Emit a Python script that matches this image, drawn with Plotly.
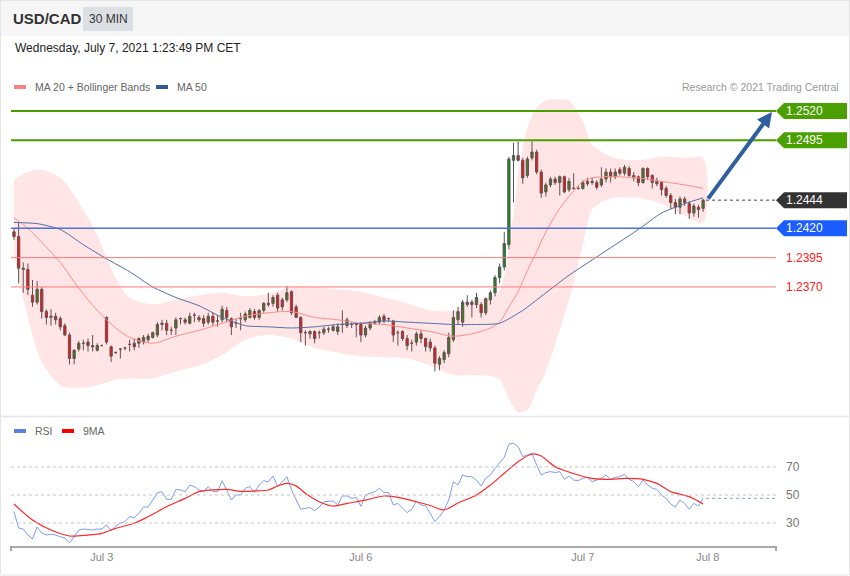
import plotly.graph_objects as go

# ---------------- data ----------------
OPEN = [1.2417,1.2413,1.2386,1.2385,1.2363,1.2357,1.2368,1.2349,1.2345,1.2345,
        1.2343,1.2337,1.2329,1.2309,1.2317,1.2322,1.2323,1.2320,1.2316,1.2320,
        1.2344,1.2319,1.2314,1.2317,1.2318,1.2321,1.2322,1.2322,1.2323,1.2325,
        1.2327,1.2329,1.2338,1.2339,1.2333,1.2335,1.2343,1.2342,1.2339,1.2346,
        1.2344,1.2343,1.2340,1.2345,1.2341,1.2342,1.2350,1.2343,1.2339,1.2343,
        1.2342,1.2344,1.2349,1.2344,1.2350,1.2355,1.2356,1.2363,1.2359,1.2359,
        1.2366,1.2353,1.2344,1.2331,1.2330,1.2332,1.2331,1.2331,1.2334,1.2333,
        1.2332,1.2338,1.2337,1.2338,1.2338,1.2338,1.2329,1.2335,1.2339,1.2340,
        1.2345,1.2343,1.2341,1.2331,1.2332,1.2326,1.2322,1.2323,1.2330,1.2326,
        1.2323,1.2318,1.2304,1.2308,1.2313,1.2325,1.2342,1.2340,1.2357,1.2357,
        1.2355,1.2355,1.2348,1.2359,1.2365,1.2378,1.2387,1.2406,1.2478,1.2482,
        1.2478,1.2465,1.2480,1.2485,1.2468,1.2451,1.2457,1.2462,1.2459,1.2464,
        1.2453,1.2454,1.2454,1.2454,1.2460,1.2459,1.2459,1.2457,1.2462,1.2468,
        1.2464,1.2470,1.2467,1.2471,1.2465,1.2464,1.2459,1.2471,1.2465,1.2460,
        1.2459,1.2454,1.2448,1.2442,1.2438,1.2445,1.2441,1.2433,1.2438,1.2437]
HIGH = [1.2420,1.2425,1.2391,1.2390,1.2376,1.2375,1.2370,1.2351,1.2351,1.2348,
        1.2345,1.2339,1.2331,1.2317,1.2324,1.2325,1.2326,1.2329,1.2322,1.2321,
        1.2345,1.2320,1.2315,1.2318,1.2319,1.2325,1.2326,1.2327,1.2329,1.2330,
        1.2332,1.2340,1.2342,1.2342,1.2336,1.2344,1.2344,1.2344,1.2348,1.2348,
        1.2346,1.2346,1.2348,1.2348,1.2346,1.2354,1.2353,1.2344,1.2343,1.2348,
        1.2349,1.2352,1.2351,1.2351,1.2357,1.2365,1.2363,1.2365,1.2361,1.2371,
        1.2367,1.2355,1.2345,1.2333,1.2333,1.2333,1.2333,1.2336,1.2336,1.2338,
        1.2339,1.2350,1.2344,1.2340,1.2340,1.2340,1.2337,1.2341,1.2342,1.2346,
        1.2347,1.2344,1.2342,1.2333,1.2333,1.2329,1.2325,1.2332,1.2333,1.2327,
        1.2326,1.2320,1.2311,1.2316,1.2331,1.2350,1.2353,1.2359,1.2363,1.2359,
        1.2365,1.2357,1.2361,1.2367,1.2380,1.2390,1.2417,1.2481,1.2493,1.2494,
        1.2480,1.2481,1.2494,1.2487,1.2470,1.2459,1.2464,1.2464,1.2465,1.2465,
        1.2463,1.2467,1.2456,1.2461,1.2463,1.2463,1.2461,1.2472,1.2471,1.2471,
        1.2471,1.2472,1.2474,1.2473,1.2468,1.2465,1.2472,1.2472,1.2466,1.2463,
        1.2460,1.2456,1.2450,1.2445,1.2447,1.2447,1.2443,1.2441,1.2440,1.2445]
LOW = [1.2410,1.2373,1.2365,1.2363,1.2353,1.2355,1.2343,1.2338,1.2337,1.2338,
       1.2333,1.2328,1.2304,1.2304,1.2315,1.2316,1.2315,1.2315,1.2315,1.2320,
       1.2321,1.2306,1.2313,1.2309,1.2316,1.2315,1.2316,1.2318,1.2321,1.2323,
       1.2326,1.2327,1.2333,1.2329,1.2329,1.2329,1.2338,1.2338,1.2338,1.2340,
       1.2340,1.2336,1.2338,1.2337,1.2336,1.2340,1.2340,1.2329,1.2335,1.2333,
       1.2340,1.2343,1.2342,1.2342,1.2348,1.2353,1.2353,1.2349,1.2350,1.2357,
       1.2346,1.2344,1.2323,1.2320,1.2326,1.2322,1.2326,1.2329,1.2331,1.2332,
       1.2329,1.2331,1.2335,1.2335,1.2327,1.2323,1.2327,1.2333,1.2338,1.2338,
       1.2339,1.2340,1.2323,1.2320,1.2324,1.2316,1.2315,1.2320,1.2322,1.2315,
       1.2315,1.2298,1.2299,1.2305,1.2310,1.2323,1.2338,1.2336,1.2353,1.2344,
       1.2352,1.2344,1.2346,1.2355,1.2362,1.2373,1.2384,1.2402,1.2442,1.2477,
       1.2458,1.2463,1.2478,1.2466,1.2446,1.2447,1.2455,1.2457,1.2448,1.2450,
       1.2451,1.2453,1.2453,1.2453,1.2456,1.2457,1.2453,1.2455,1.2459,1.2459,
       1.2462,1.2465,1.2465,1.2464,1.2460,1.2456,1.2458,1.2461,1.2454,1.2456,
       1.2448,1.2446,1.2436,1.2432,1.2432,1.2439,1.2428,1.2430,1.2429,1.2434]
CLOSE = [1.2413,1.2386,1.2385,1.2368,1.2357,1.2368,1.2349,1.2344,1.2344,1.2342,
         1.2336,1.2329,1.2309,1.2316,1.2322,1.2322,1.2320,1.2319,1.2320,1.2320,
         1.2323,1.2311,1.2314,1.2317,1.2318,1.2321,1.2319,1.2326,1.2327,1.2328,
         1.2331,1.2338,1.2339,1.2333,1.2333,1.2342,1.2343,1.2340,1.2345,1.2346,
         1.2342,1.2339,1.2345,1.2340,1.2341,1.2351,1.2344,1.2336,1.2339,1.2343,
         1.2347,1.2350,1.2344,1.2350,1.2356,1.2356,1.2361,1.2352,1.2353,1.2365,
         1.2348,1.2344,1.2331,1.2331,1.2332,1.2326,1.2331,1.2334,1.2334,1.2336,
         1.2336,1.2338,1.2342,1.2338,1.2338,1.2329,1.2335,1.2339,1.2340,1.2344,
         1.2341,1.2343,1.2329,1.2331,1.2326,1.2320,1.2322,1.2330,1.2326,1.2319,
         1.2318,1.2305,1.2309,1.2314,1.2327,1.2344,1.2349,1.2357,1.2355,1.2355,
         1.2361,1.2348,1.2360,1.2365,1.2378,1.2387,1.2407,1.2479,1.2482,1.2478,
         1.2463,1.2479,1.2485,1.2468,1.2450,1.2457,1.2462,1.2459,1.2464,1.2451,
         1.2460,1.2454,1.2454,1.2459,1.2458,1.2460,1.2455,1.2462,1.2468,1.2464,
         1.2468,1.2467,1.2472,1.2465,1.2463,1.2459,1.2471,1.2464,1.2459,1.2458,
         1.2453,1.2448,1.2442,1.2438,1.2445,1.2442,1.2433,1.2439,1.2436,1.2444]

BAND_IDX = [0,3,6,10,14,18,22,25,30,35,40,45,50,55,60,65,70,75,80,85,90,95,100,
            103,105,107,109,111,113,115,118,120,123,125,128,130,135,140,145,149]
BB_UPPER = [1.2461,1.2468,1.2470,1.2463,1.2442,1.2414,1.2377,1.2361,1.2355,1.2359,
            1.2363,1.2365,1.2362,1.2364,1.2370,1.2370,1.2368,1.2366,1.2361,1.2356,
            1.2350,1.2350,1.2359,1.2361,1.2367,1.2402,1.2465,1.2506,1.2523,1.2529,
            1.2530,1.2529,1.2511,1.2491,1.2483,1.2480,1.2478,1.2481,1.2480,1.2480]
BB_LOWER = [1.2397,1.2344,1.2306,1.2286,1.2284,1.2286,1.2291,1.2292,1.2292,1.2298,
            1.2303,1.2312,1.2325,1.2329,1.2326,1.2318,1.2314,1.2311,1.2310,1.2309,
            1.2303,1.2295,1.2295,1.2294,1.2291,1.2275,1.2263,1.2265,1.2282,1.2298,
            1.2333,1.2359,1.2406,1.2436,1.2444,1.2446,1.2446,1.2441,1.2431,1.2425]
MA20 = [1.2429,1.2420,1.2408,1.2391,1.2369,1.2350,1.2335,1.2327,1.2322,1.2328,
        1.2333,1.2339,1.2345,1.2348,1.2349,1.2344,1.2342,1.2339,1.2338,1.2335,
        1.2332,1.2328,1.2331,1.2335,1.2340,1.2353,1.2366,1.2384,1.2400,1.2417,
        1.2437,1.2447,1.2460,1.2463,1.2464,1.2464,1.2463,1.2460,1.2457,1.2454]
MA50_IDX = [0,5,10,15,20,25,30,35,40,45,50,55,60,65,70,75,80,85,90,95,100,
            105,110,115,120,125,130,135,140,145,149]
MA50 = [1.2425,1.2424,1.2419,1.2406,1.2394,1.2383,1.2370,1.2361,1.2354,1.2344,
        1.2337,1.2336,1.2335,1.2336,1.2338,1.2339,1.2341,1.2340,1.2339,1.2338,
        1.2338,1.2339,1.2350,1.2365,1.2380,1.2393,1.2406,1.2419,1.2433,1.2441,1.2446]

RSI = [38.1,26.4,25.7,21.4,18.6,27.1,22.9,21.4,22.0,21.4,
       20.2,19.3,15.7,20.2,25.0,25.7,25.3,25.0,25.7,25.7,
       28.6,24.5,27.9,29.8,31.0,34.5,33.8,37.0,41.4,41.4,
       46.4,51.7,52.4,46.9,46.9,54.0,53.6,52.4,57.1,56.0,
       53.6,52.4,56.0,52.4,52.4,60.2,53.6,46.4,50.0,50.0,
       54.8,56.0,51.7,57.1,60.2,59.5,63.6,56.0,59.5,63.1,
       53.6,46.4,39.8,40.5,41.0,38.8,41.4,45.2,45.5,45.7,
       42.9,49.3,49.3,47.6,48.3,41.9,50.0,51.2,52.4,54.8,
       51.7,51.7,42.9,44.0,40.5,37.4,39.8,45.5,42.9,42.1,
       36.9,31.0,34.5,39.3,46.4,59.5,57.1,64.3,63.1,63.1,
       60.7,56.4,62.0,64.3,69.0,72.6,76.9,86.4,86.9,84.5,
       77.4,78.6,79.8,71.4,64.3,66.0,66.7,66.0,66.7,61.2,
       63.6,60.7,60.2,61.9,62.6,59.5,60.7,61.9,64.3,61.2,
       62.6,63.1,64.8,61.2,59.5,55.9,60.7,57.1,54.8,54.0,
       50.0,47.6,43.6,41.4,46.4,44.0,39.8,44.0,42.1,47.6]
RSI_MA_IDX = [0,4,8,12,16,19,22,26,29,33,37,40,43,46,49,52,55,57,59,61,63,66,69,72,
              76,80,83,87,90,93,96,100,103,106,109,112,114,117,122,125,129,132,136,
              139,142,146,149]
RSI_MA9 = [43.6,32.1,25.0,20.7,21.4,22.6,26.2,29.8,34.5,41.6,47.6,52.4,53.6,54.0,
           52.6,52.9,53.6,56.4,58.3,56.5,51.2,45.2,42.1,44.0,46.4,49.3,48.3,45.2,
           42.5,39.3,44.3,50.0,57.1,65.5,73.8,79.3,77.9,70.2,64.3,61.9,61.2,61.9,
           61.2,58.3,52.4,48.8,43.6]

BOX_LEVELS = [1.2520, 1.2495, 1.2444, 1.2420]
BOX_COLORS = ['#4aa000', '#4aa000', '#333333', '#1a5cff']
RED_LEVELS = [1.2395, 1.2370]
RSI_LEVELS = [70, 50, 30]
TICK_POS = [19, 75, 123, 150]
TICK_TEXT = ['Jul 3', 'Jul 6', 'Jul 7', 'Jul 8']
TARGET = 1.2520

# ---------------- layout geometry ----------------
W, H = 850, 576
ML, MR, MT, MB = 11, 74, 0, 30
PW, PH = W - ML - MR, H - MT - MB
FONT = 'Liberation Sans, Arial, sans-serif'


def px(X):
    return (X - ML) / PW


def py(Y):
    return 1 - (Y - MT) / PH


PX_PER_UNIT = 11730.0       # vertical pixels per 1.0000 of price
STEP = 4.625                # pixels per candle
X0 = 14                     # pixel of first candle
x_range = [(ML - X0) / STEP, (W - MR - X0) / STEP]
y_range = [1.2520 - (415 - 111) / PX_PER_UNIT, 1.2520 + (111 - 95) / PX_PER_UNIT]
rsi_range = [50 - (546 - 495) / 1.4, 50 + (495 - 420) / 1.4]

N = len(CLOSE)
IDX = list(range(N))

fig = go.Figure()

# Bollinger band (filled area)
fig.add_trace(go.Scatter(
    x=BAND_IDX + BAND_IDX[::-1], y=BB_UPPER + BB_LOWER[::-1],
    fill='toself', fillcolor='rgba(255,40,40,0.12)', mode='lines',
    line=dict(width=0, shape='spline', smoothing=0.8), hoverinfo='skip',
    xaxis='x', yaxis='y', showlegend=False))
fig.add_trace(go.Scatter(x=BAND_IDX, y=MA20, mode='lines',
                         line=dict(color='#ff8c8c', width=1, shape='spline', smoothing=0.8),
                         xaxis='x', yaxis='y', showlegend=False))
fig.add_trace(go.Scatter(x=MA50_IDX, y=MA50, mode='lines',
                         line=dict(color='#4f6fa8', width=1, shape='spline', smoothing=0.6),
                         xaxis='x', yaxis='y', showlegend=False))
fig.add_trace(go.Candlestick(
    x=IDX, open=OPEN, high=HIGH, low=LOW, close=CLOSE,
    increasing=dict(fillcolor='#1f8a1f', line=dict(color='#555555', width=1)),
    decreasing=dict(fillcolor='#e8141c', line=dict(color='#555555', width=1)),
    whiskerwidth=0, xaxis='x', yaxis='y', showlegend=False))

# RSI panel
fig.add_trace(go.Scatter(x=IDX, y=RSI, mode='lines',
                         line=dict(color='#7f9ded', width=1),
                         xaxis='x2', yaxis='y2', showlegend=False))
fig.add_trace(go.Scatter(x=RSI_MA_IDX, y=RSI_MA9, mode='lines',
                         line=dict(color='#ff2a2a', width=1.2, shape='spline', smoothing=0.8),
                         xaxis='x2', yaxis='y2', showlegend=False))

shapes = []
annotations = []

# header / frame
shapes.append(dict(type='rect', xref='paper', yref='paper', x0=px(0), x1=px(W), y0=py(36), y1=py(0),
                   fillcolor='#f6f6f6', line=dict(width=0), layer='below'))
shapes.append(dict(type='rect', xref='paper', yref='paper', x0=px(83), x1=px(133), y0=py(31), y1=py(7),
                   fillcolor='#dcdfe4', line=dict(width=0), layer='below'))
shapes.append(dict(type='rect', xref='paper', yref='paper', x0=px(0.5), x1=px(849.5), y0=py(575), y1=py(0.5),
                   line=dict(color='#e4e4e4', width=1)))
shapes.append(dict(type='line', xref='paper', yref='paper', x0=px(0), x1=px(W), y0=py(416.5), y1=py(416.5),
                   line=dict(color='#e6e6e6', width=1.5)))

# legend swatches
shapes.append(dict(type='rect', xref='paper', yref='paper', x0=px(14), x1=px(26), y0=py(89), y1=py(85),
                   fillcolor='#ff8080', line=dict(width=0)))
shapes.append(dict(type='rect', xref='paper', yref='paper', x0=px(156), x1=px(168), y0=py(89), y1=py(85),
                   fillcolor='#2f5a9a', line=dict(width=0)))
shapes.append(dict(type='rect', xref='paper', yref='paper', x0=px(14), x1=px(26), y0=py(433), y1=py(429),
                   fillcolor='#5b80e0', line=dict(width=0)))
shapes.append(dict(type='rect', xref='paper', yref='paper', x0=px(62), x1=px(74), y0=py(433), y1=py(429),
                   fillcolor='#ff0000', line=dict(width=0)))

# horizontal levels
for lvl, col in zip(BOX_LEVELS, BOX_COLORS):
    if col == '#333333':
        shapes.append(dict(type='line', xref='paper', yref='y', x0=px(706), x1=1, y0=lvl, y1=lvl,
                           line=dict(color='#444444', width=1, dash='dot')))
    elif col == '#4aa000':
        shapes.append(dict(type='line', xref='paper', yref='y', x0=0, x1=1, y0=lvl, y1=lvl,
                           line=dict(color='#4a9e00', width=2)))
    else:
        shapes.append(dict(type='line', xref='paper', yref='y', x0=0, x1=1, y0=lvl, y1=lvl,
                           line=dict(color='#4a72e0', width=1.5)))
    h = 8 / PX_PER_UNIT
    path = (f'M {px(776)},{lvl} L {px(784)},{lvl + h} L {px(847)},{lvl + h} '
            f'L {px(847)},{lvl - h} L {px(784)},{lvl - h} Z')
    shapes.append(dict(type='path', xref='paper', yref='y', path=path, fillcolor=col, line=dict(width=0)))
    annotations.append(dict(xref='paper', yref='y', x=px(784), y=lvl, text=f'{lvl:.4f}', showarrow=False,
                            xanchor='left', yanchor='middle', font=dict(family=FONT, size=12, color='white')))
for lvl in RED_LEVELS:
    shapes.append(dict(type='line', xref='paper', yref='y', x0=0, x1=1, y0=lvl, y1=lvl,
                       line=dict(color='#ff7a7a', width=1)))
    annotations.append(dict(xref='paper', yref='y', x=px(784), y=lvl, text=f'{lvl:.4f}', showarrow=False,
                            xanchor='left', yanchor='middle', font=dict(family=FONT, size=12, color='#ff2020')))

# RSI levels
for lvl in RSI_LEVELS:
    shapes.append(dict(type='line', xref='paper', yref='y2', x0=0, x1=1, y0=lvl, y1=lvl,
                       line=dict(color='#c4c4c4', width=1, dash='dot')))
    annotations.append(dict(xref='paper', yref='y2', x=px(784), y=lvl, text=str(lvl), showarrow=False,
                            xanchor='left', yanchor='middle', font=dict(family=FONT, size=12, color='#777777')))
shapes.append(dict(type='line', xref='paper', yref='y2', x0=px(706), x1=1, y0=RSI[-1], y1=RSI[-1],
                   line=dict(color='#7f9ded', width=1, dash='dot')))
# x-axis end ticks
for X in (ML, W - MR):
    shapes.append(dict(type='line', xref='paper', yref='paper', x0=px(X), x1=px(X), y0=py(546), y1=py(551),
                       line=dict(color='#aaaaaa', width=2)))

# forecast arrow
annotations.append(dict(xref='x', yref='y', axref='x', ayref='y',
                        x=(772 - X0) / STEP, y=TARGET - 1 / PX_PER_UNIT,
                        ax=(707 - X0) / STEP, ay=CLOSE[-1],
                        text='', showarrow=True, arrowhead=2, arrowsize=0.75, arrowwidth=4,
                        arrowcolor='#2f5f9e'))

# texts
annotations += [
    dict(xref='paper', yref='paper', x=px(11), y=py(19), text='<b>USD/CAD</b>', showarrow=False,
         xanchor='left', yanchor='middle', font=dict(family=FONT, size=15, color='#333333')),
    dict(xref='paper', yref='paper', x=px(108), y=py(19), text='30 MIN', showarrow=False,
         xanchor='center', yanchor='middle', font=dict(family=FONT, size=12, color='#333333')),
    dict(xref='paper', yref='paper', x=px(13), y=py(48), text='Wednesday, July 7, 2021 1:23:49 PM CET',
         showarrow=False, xanchor='left', yanchor='middle', font=dict(family=FONT, size=12, color='#222222')),
    dict(xref='paper', yref='paper', x=px(33), y=py(87), text='MA 20 + Bollinger Bands', showarrow=False,
         xanchor='left', yanchor='middle', font=dict(family=FONT, size=10.5, color='#666666')),
    dict(xref='paper', yref='paper', x=px(175), y=py(87), text='MA 50', showarrow=False,
         xanchor='left', yanchor='middle', font=dict(family=FONT, size=10.5, color='#666666')),
    dict(xref='paper', yref='paper', x=px(841), y=py(87), text='Research © 2021 Trading Central',
         showarrow=False, xanchor='right', yanchor='middle', font=dict(family=FONT, size=10.5, color='#999999')),
    dict(xref='paper', yref='paper', x=px(33), y=py(431), text='RSI', showarrow=False,
         xanchor='left', yanchor='middle', font=dict(family=FONT, size=10.5, color='#666666')),
    dict(xref='paper', yref='paper', x=px(81), y=py(431), text='9MA', showarrow=False,
         xanchor='left', yanchor='middle', font=dict(family=FONT, size=10.5, color='#666666')),
]

fig.update_layout(
    width=W, height=H, margin=dict(l=ML, r=MR, t=MT, b=MB),
    paper_bgcolor='white', plot_bgcolor='white', showlegend=False,
    font=dict(family=FONT),
    xaxis=dict(domain=[0, 1], range=x_range, visible=False, rangeslider=dict(visible=False),
               anchor='y', fixedrange=True),
    yaxis=dict(domain=[py(415), py(95)], range=y_range, visible=False, anchor='x', fixedrange=True),
    xaxis2=dict(domain=[0, 1], range=x_range, anchor='y2', showgrid=False, zeroline=False,
                showline=True, linecolor='#aaaaaa', linewidth=2, ticks='',
                tickvals=TICK_POS, ticktext=TICK_TEXT,
                tickfont=dict(family=FONT, size=11, color='#888888'), fixedrange=True),
    yaxis2=dict(domain=[0, py(420)], range=rsi_range, visible=False, anchor='x2', fixedrange=True),
    shapes=shapes, annotations=annotations,
)

fig.write_html('out.html', config=dict(displayModeBar=False),
               post_script="document.body.style.margin='0';document.body.style.overflow='hidden';")
